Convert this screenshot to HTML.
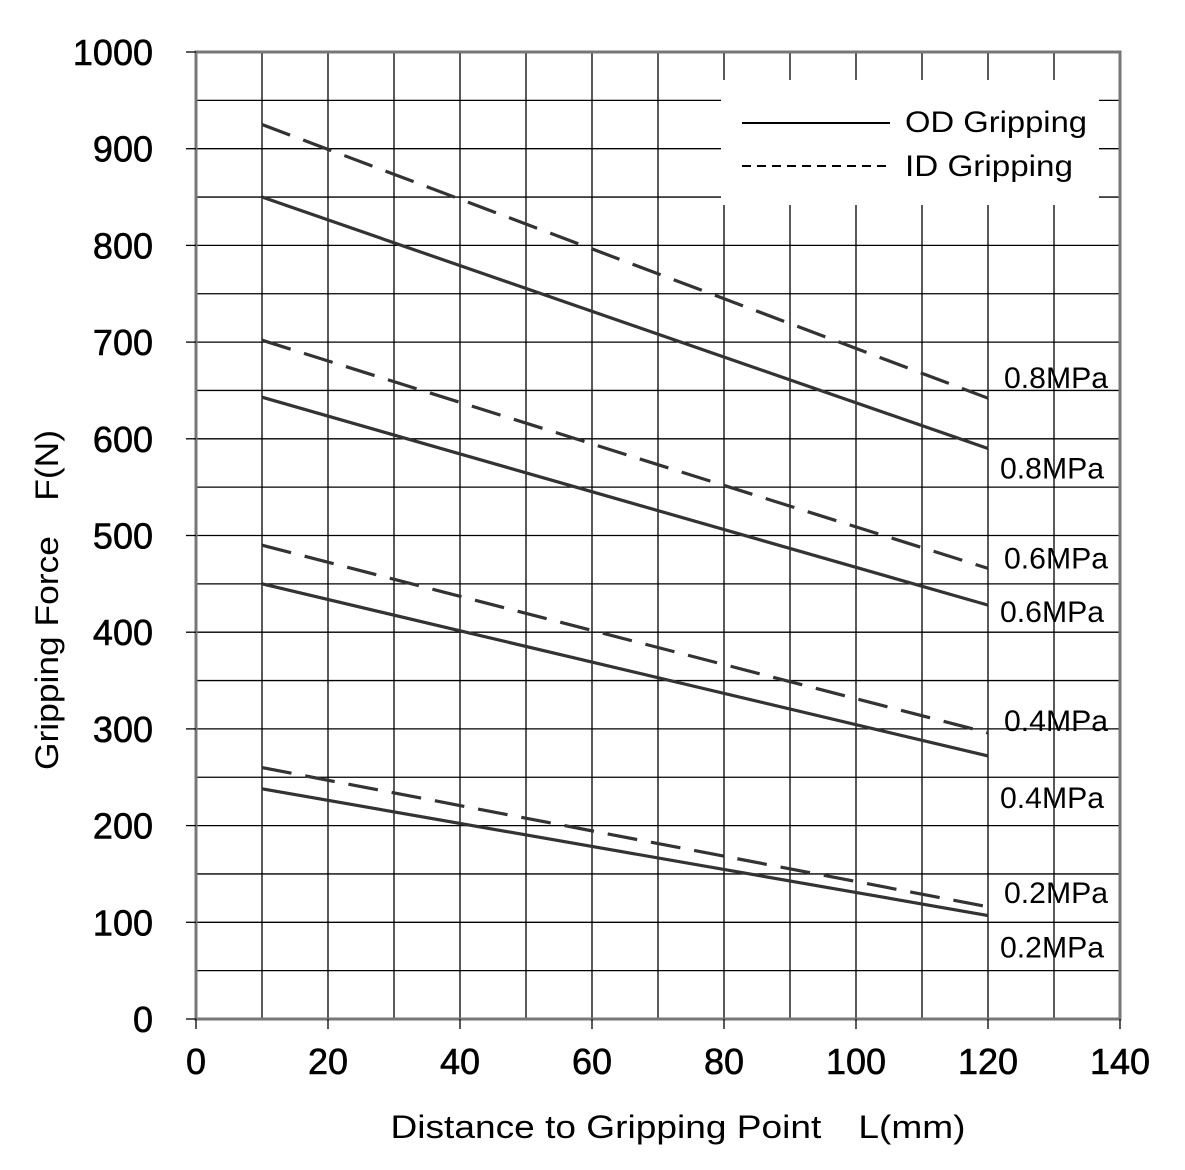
<!DOCTYPE html>
<html><head><meta charset="utf-8"><style>
html,body{margin:0;padding:0;background:#fff;}
svg{display:block;font-family:"Liberation Sans",sans-serif;}
</style></head><body>
<svg id="chart" width="1185" height="1170" viewBox="0 0 1185 1170" xmlns="http://www.w3.org/2000/svg">
<rect width="1185" height="1170" fill="#fff"/>
<g id="grid"></g>
<rect x="721" y="80" width="378" height="125" fill="#fff"/>
<g id="series"></g>
<rect x="196" y="52" width="924" height="967" fill="none" stroke="#777" stroke-width="3"/>
<g id="axes"></g>
<g>
<line x1="742" y1="123" x2="890" y2="123" stroke="#000" stroke-width="2"/>
<text x="905" y="132" font-size="30" textLength="182" lengthAdjust="spacingAndGlyphs">OD Gripping</text>
<line x1="742" y1="166" x2="890" y2="166" stroke="#000" stroke-width="2" stroke-dasharray="9,6"/>
<text x="905" y="176" font-size="30" textLength="168" lengthAdjust="spacingAndGlyphs">ID Gripping</text>
</g>
<text transform="translate(58,600) rotate(-90)" text-anchor="middle" font-size="32" textLength="340" lengthAdjust="spacingAndGlyphs">Gripping Force　F(N)</text>
<text x="678" y="1138" text-anchor="middle" font-size="32" textLength="575" lengthAdjust="spacingAndGlyphs">Distance to Gripping Point　L(mm)</text>
</svg>
<script>
const xTicks=[0,20,40,60,80,100,120,140];
const yTicks=[0,100,200,300,400,500,600,700,800,900,1000];
const xEnds=[10,120];
const od08=[850,590], id08=[925,642];
const od06=[643,428], id06=[702,466];
const od04=[450,272], id04=[490,296];
const od02=[238,107], id02=[260,116];
const seriesNames=['od-0.8','id-0.8','od-0.6','id-0.6','od-0.4','id-0.4','od-0.2','id-0.2'];
const seriesVals=[od08,id08,od06,id06,od04,id04,od02,id02];
const seriesLabels=['0.8MPa','0.8MPa','0.6MPa','0.6MPa','0.4MPa','0.4MPa','0.2MPa','0.2MPa'];
const X0=196,X1=1120,Y0=1019,Y1=52;
const sx=v=>X0+(v-0)/140*(X1-X0);
const sy=v=>Y0-(v-0)/1000*(Y0-Y1);
const labelDy=[30,-10,17,0,52,-2,42,-4];
const NS='http://www.w3.org/2000/svg';
function mk(tag,attrs,parent,txt){const e=document.createElementNS(NS,tag);for(const k in attrs)e.setAttribute(k,attrs[k]);if(txt!==undefined)e.textContent=txt;parent.appendChild(e);return e;}
const grid=document.getElementById('grid'),ser=document.getElementById('series'),axes=document.getElementById('axes');
for(let v=10;v<140;v+=10){const l=mk('line',{x1:sx(v),x2:sx(v),y1:Y1,y2:Y0,stroke:'#000','stroke-width':1.3},grid);

}
for(let v=50;v<1000;v+=50){const l=mk('line',{x1:X0,x2:X1,y1:sy(v),y2:sy(v),stroke:'#000','stroke-width':1.3},grid);

}
xTicks.forEach(t=>{const l=mk('line',{x1:sx(t),x2:sx(t),y1:Y0,y2:Y0+10,stroke:'#000','stroke-width':1.3},axes);


const tx=mk('text',{x:sx(t),y:1074,'text-anchor':'middle','font-size':36,stroke:'#000','stroke-width':0.6},axes,String(t));

});
yTicks.forEach(t=>{const l=mk('line',{x1:X0-10,x2:X0,y1:sy(t),y2:sy(t),stroke:'#000','stroke-width':1.3},axes);


const tx=mk('text',{x:153,y:sy(t)+13,'text-anchor':'end','font-size':36,stroke:'#000','stroke-width':0.6},axes,String(t));

});
seriesVals.forEach((vals,i)=>{const dashed=seriesNames[i].startsWith('id');
const l=mk('line',{x1:sx(xEnds[0]),y1:sy(vals[0]),x2:sx(xEnds[1]),y2:sy(vals[1]),stroke:'#333','stroke-width':3.2},ser);
if(dashed)l.setAttribute('stroke-dasharray','30,14');


const ly=sy(vals[1])+labelDy[i];
const tx=mk('text',{x:dashed?1004:1000,y:ly,'font-size':30,textLength:104,lengthAdjust:'spacingAndGlyphs'},ser,seriesLabels[i]);

});
</script>
</body></html>
